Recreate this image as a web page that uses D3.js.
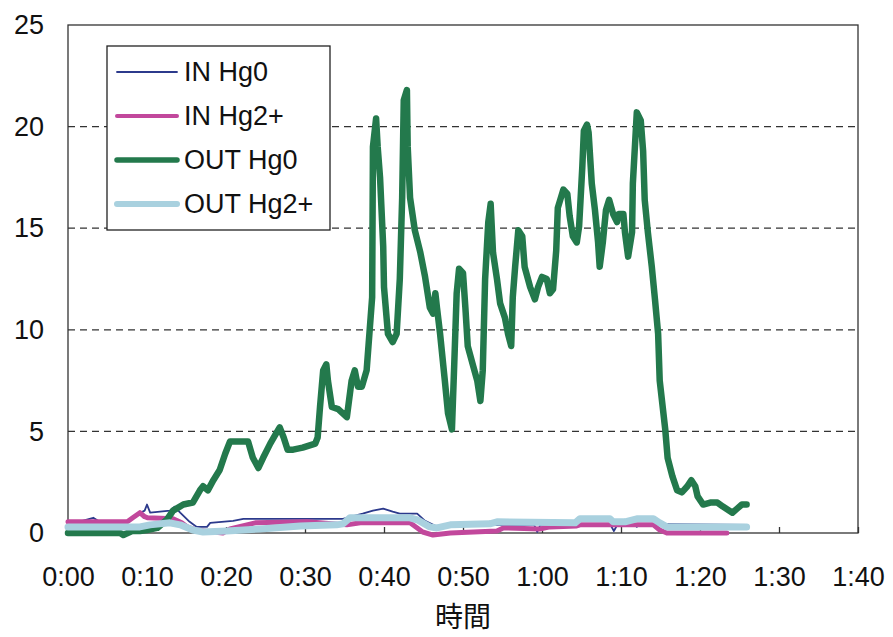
<!DOCTYPE html>
<html>
<head>
<meta charset="utf-8">
<script src="https://cdn.jsdelivr.net/npm/d3@7"></script>
<style>
    body { margin: 0; background: #fff; }
    text { font-family: "Liberation Sans", Arial, sans-serif; fill: #111; }
</style>
</head>
<body>
<svg id="chart" width="893" height="637"></svg>
<script>
// elapsed time in minutes, concentration values
var xTicks = [0, 10, 20, 30, 40, 50, 60, 70, 80, 90, 100];
var yTicks = [0, 5, 10, 15, 20, 25];
var seriesNames = ['IN Hg0', 'IN Hg2+', 'OUT Hg0', 'OUT Hg2+'];

var inHg0Time = [0, 0.9, 3.2, 3.8, 7.5, 8.7, 9.7, 10.0, 10.4, 12.9, 13.5, 14.2, 15.4, 16.3, 17.6, 18.0, 20.9, 22.2,
    34.8, 37.3, 38.6, 39.9, 41.1, 42.0, 44.2, 45.2, 46.5, 49.6, 59.0, 59.4, 59.8, 68.6, 69.1, 69.6, 71.6, 72.0, 72.4, 86.0];
var inHg0Value = [0.4, 0.5, 0.75, 0.6, 0.6, 0.9, 1.1, 1.4, 1.0, 1.1, 1.3, 1.0, 0.55, 0.3, 0.3, 0.5, 0.6, 0.7,
    0.7, 0.95, 1.1, 1.2, 1.05, 0.95, 0.95, 0.6, 0.35, 0.4, 0.4, 0.05, 0.4, 0.45, 0.1, 0.45, 0.45, 0.3, 0.45, 0.4];

var inHg2Time = [0, 7.5, 8.2, 9.1, 9.7, 10.1, 13.3, 14.4, 15.1, 16.1, 19.6, 20.5, 23.7, 30.3, 35.3, 37.0, 43.3,
    44.9, 46.2, 48.4, 54.3, 55.1, 59.7, 61.0, 64.4, 64.8, 72.4, 74.1, 74.9, 75.8, 83.4];
var inHg2Value = [0.55, 0.55, 0.75, 1.0, 0.8, 0.75, 0.7, 0.5, 0.3, 0.15, 0.0, 0.2, 0.5, 0.55, 0.4, 0.5, 0.5,
    0.05, -0.1, 0.0, 0.1, 0.25, 0.2, 0.3, 0.35, 0.4, 0.4, 0.4, 0.15, 0.0, 0.0];

var outHg0Time = [0, 4.0, 6.6, 7.0, 8.1, 9.1, 10.0, 11.3, 12.5, 13.3, 14.6, 15.8, 16.7, 17.1, 17.7, 18.4, 19.2, 19.9,
    20.5, 21.8, 22.8, 23.4, 24.1, 24.7, 25.6, 26.2, 26.8, 27.3, 27.8, 28.5, 29.7, 31.3, 31.6, 31.9, 32.3, 32.7,
    32.9, 33.4, 34.2, 35.3, 35.9, 36.3, 36.7, 37.2, 37.8, 38.5, 38.6, 39.0, 39.2, 39.5, 39.9, 40.0, 40.5, 41.1,
    41.6, 42.0, 42.3, 42.5, 42.9, 43.0, 43.3, 43.9, 44.6, 45.2, 45.8, 46.2, 46.5, 46.7, 47.1, 47.7, 48.1, 48.6,
    48.9, 49.2, 49.5, 50.0, 50.3, 50.6, 51.3, 51.8, 52.2, 52.5, 52.8, 53.2, 53.5, 53.8, 54.3, 54.7, 55.3, 55.7,
    56.1, 56.3, 56.6, 57.0, 57.5, 57.8, 58.5, 59.1, 59.5, 60.0, 60.6, 61.0, 61.4, 61.8, 62.0, 62.7, 63.2, 63.5,
    63.9, 64.4, 64.7, 65.1, 65.3, 65.7, 65.9, 66.3, 66.7, 67.1, 67.3, 67.7, 68.1, 68.5, 69.0, 69.5, 69.7, 70.3,
    70.5, 70.9, 71.4, 71.5, 71.8, 72.0, 72.5, 72.8, 73.0, 73.4, 73.9, 74.3, 74.7, 74.9, 75.6, 75.9, 76.5, 77.1,
    77.7, 78.4, 78.9, 79.4, 79.7, 80.4, 81.3, 82.2, 82.9, 84.1, 84.7, 85.3, 85.9];
var outHg0Value = [0.0, 0.0, 0.0, -0.1, 0.1, 0.1, 0.15, 0.25, 0.65, 1.1, 1.4, 1.5, 2.1, 2.3, 2.1, 2.6, 3.1, 3.9,
    4.5, 4.5, 4.5, 3.7, 3.2, 3.7, 4.4, 4.8, 5.2, 4.7, 4.1, 4.1, 4.2, 4.4, 4.7, 6.2, 8.0, 8.3,
    7.5, 6.2, 6.1, 5.7, 7.5, 8.0, 7.2, 7.2, 8.0, 11.6, 19.0, 20.4, 19.0, 17.5, 14.1, 12.1, 9.8, 9.4,
    9.8, 12.5, 16.5, 21.3, 21.8, 19.0, 16.5, 14.9, 13.8, 12.6, 11.1, 10.8, 11.8, 11.1, 9.8, 7.5, 5.9, 5.1,
    8.4, 11.8, 13.0, 12.8, 11.1, 9.2, 8.2, 7.5, 6.5, 8.0, 12.5, 15.3, 16.2, 13.8, 12.5, 11.3, 10.6, 9.8,
    9.2, 11.6, 13.1, 14.9, 14.6, 13.1, 12.1, 11.5, 12.1, 12.6, 12.5, 11.8, 12.0, 13.9, 16.0, 16.9, 16.7, 15.6,
    14.6, 14.3, 15.1, 18.0, 19.8, 20.1, 19.7, 17.2, 15.9, 14.3, 13.1, 14.3, 15.9, 16.4, 15.7, 15.3, 15.7, 15.7,
    14.8, 13.6, 14.8, 17.2, 19.3, 20.7, 20.3, 18.8, 16.4, 14.8, 13.1, 11.5, 9.8, 7.5, 5.1, 3.7, 2.8, 2.1,
    2.0, 2.3, 2.6, 2.3, 1.8, 1.4, 1.5, 1.5, 1.3, 1.0, 1.2, 1.4, 1.4];

var outHg2Time = [0, 9.1, 10.4, 12.9, 14.2, 15.8, 17.1, 20.1, 24.3, 29.4, 34.0, 34.8, 35.7, 43.3, 44.2, 45.8, 46.7,
    48.4, 53.4, 54.3, 64.2, 64.8, 68.6, 69.0, 70.5, 72.0, 74.1, 74.9, 75.8, 85.9];
var outHg2Value = [0.3, 0.3, 0.4, 0.5, 0.4, 0.15, 0.05, 0.1, 0.2, 0.35, 0.4, 0.45, 0.75, 0.75, 0.65, 0.3, 0.25,
    0.4, 0.45, 0.55, 0.5, 0.7, 0.7, 0.55, 0.55, 0.7, 0.7, 0.5, 0.3, 0.3];

var seriesColors = ['#2c3a8c', '#c2489c', '#23794c', '#a9d1df'];
var seriesWidths = [1.8, 5, 6.5, 7];

function zipSeries (times, values) {
    return times.map(function (t, i) { return {t: t, v: values[i]}; });
}

var series = [
    zipSeries(inHg0Time, inHg0Value),
    zipSeries(inHg2Time, inHg2Value),
    zipSeries(outHg0Time, outHg0Value),
    zipSeries(outHg2Time, outHg2Value)
];

var margin = {left: 68, top: 25, right: 35, bottom: 104};
var svg = d3.select('#chart');
var width = +svg.attr('width') - margin.left - margin.right;
var height = +svg.attr('height') - margin.top - margin.bottom;

var x = d3.scaleLinear().domain([0, 100]).range([0, width]);
var y = d3.scaleLinear().domain([0, 25]).range([height, 0]);

var g = svg.append('g')
    .attr('transform', 'translate(' + margin.left + ',' + margin.top + ')');

// dashed grid
g.selectAll('line.grid')
    .data(yTicks.filter(function (d) { return d > 0 && d < 25; }))
    .enter().append('line')
    .attr('class', 'grid')
    .attr('x1', 0).attr('x2', width)
    .attr('y1', function (d) { return y(d); })
    .attr('y2', function (d) { return y(d); })
    .style('stroke', '#333')
    .style('stroke-width', 1.2)
    .style('stroke-dasharray', '7,5');

// plot frame
g.append('rect')
    .attr('x', 0).attr('y', 0)
    .attr('width', width).attr('height', height)
    .style('fill', 'none')
    .style('stroke', '#333')
    .style('stroke-width', 1.3);

// x axis with inward ticks
var xAxis = d3.axisBottom(x)
    .tickValues(xTicks)
    .tickSizeInner(-6)
    .tickSizeOuter(0)
    .tickPadding(34)
    .tickFormat(function (d) {
        var h = Math.floor(d / 60), m = d % 60;
        return h + ':' + (m < 10 ? '0' + m : m);
    });
var xAxisG = g.append('g')
    .attr('transform', 'translate(0,' + height + ')')
    .call(xAxis);
xAxisG.select('.domain').remove();
xAxisG.selectAll('line').style('stroke', '#333').style('stroke-width', 1.3);
xAxisG.selectAll('text')
    .style('font-size', '27px')
    .style('font-family', '"Liberation Sans", Arial, sans-serif')
    .style('fill', '#111');

// y axis labels only
var yAxis = d3.axisLeft(y)
    .tickValues(yTicks)
    .tickSize(0)
    .tickPadding(24);
var yAxisG = g.append('g').call(yAxis);
yAxisG.select('.domain').remove();
yAxisG.selectAll('text')
    .style('font-size', '27px')
    .style('font-family', '"Liberation Sans", Arial, sans-serif')
    .style('fill', '#111');

// x axis title
svg.append('text')
    .attr('x', margin.left + width / 2)
    .attr('y', 627)
    .style('text-anchor', 'middle')
    .style('font-size', '28px')
    .style('font-family', '"Noto Sans CJK JP", sans-serif')
    .text('時間');

var line = d3.line()
    .x(function (d) { return x(d.t); })
    .y(function (d) { return y(d.v); });

g.selectAll('path.series')
    .data(series)
    .enter().append('path')
    .attr('class', 'series')
    .attr('d', line)
    .style('fill', 'none')
    .style('stroke', function (d, i) { return seriesColors[i]; })
    .style('stroke-width', function (d, i) { return seriesWidths[i]; })
    .style('stroke-linejoin', 'round')
    .style('stroke-linecap', 'round');

// legend
var legend = svg.append('g').attr('transform', 'translate(107,46)');
legend.append('rect')
    .attr('width', 223).attr('height', 184)
    .style('fill', '#fff')
    .style('stroke', '#222')
    .style('stroke-width', 1.3);
var rows = legend.selectAll('g.row')
    .data(seriesNames)
    .enter().append('g')
    .attr('class', 'row')
    .attr('transform', function (d, i) { return 'translate(0,' + (26 + i * 44) + ')'; });
rows.append('line')
    .attr('x1', 10).attr('x2', 70)
    .style('stroke', function (d, i) { return seriesColors[i]; })
    .style('stroke-width', function (d, i) { return Math.max(seriesWidths[i] - 1, 1.8); })
    .style('stroke-linecap', 'round');
rows.append('text')
    .attr('x', 77)
    .attr('dy', '0.35em')
    .style('font-size', '27px')
    .text(function (d) { return d; });
</script>
</body>
</html>
